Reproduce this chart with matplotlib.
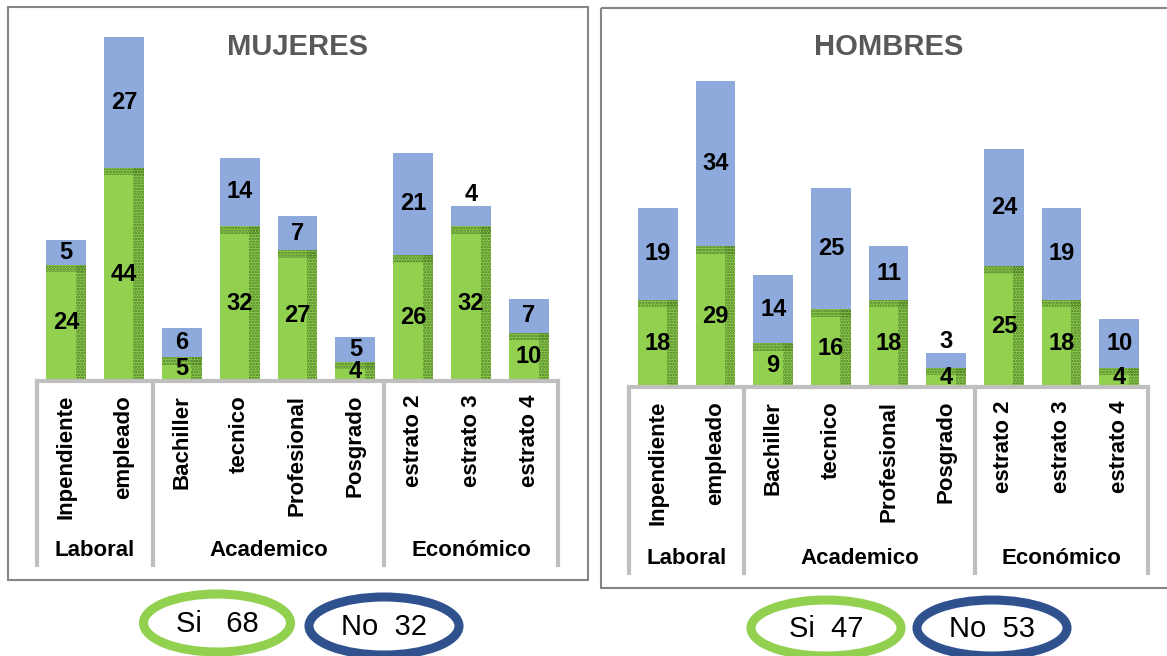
import matplotlib
matplotlib.use("Agg")
import matplotlib.pyplot as plt
from matplotlib.patches import Rectangle, Ellipse

# data
categories = ["Inpendiente", "empleado", "Bachiller", "tecnico", "Profesional",
              "Posgrado", "estrato 2", "estrato 3", "estrato 4"]
groups = ["Laboral", "Academico", "Económico"]
group_sizes = [2, 4, 3]

mujeres_si = [24, 44, 5, 32, 27, 4, 26, 32, 10]
mujeres_no = [5, 27, 6, 14, 7, 5, 21, 4, 7]
hombres_si = [18, 29, 9, 16, 18, 4, 25, 18, 4]
hombres_no = [19, 34, 14, 25, 11, 3, 24, 19, 10]

totales_mujeres = [68, 32]
totales_hombres = [47, 53]

GREEN = "#92D050"
DARK_GREEN = "#4A7A26"
BLUE = "#8EA9DB"
NAVY = "#2F528F"
GRID = "#BFBFBF"
plt.rcParams["font.family"] = ["Liberation Sans", "DejaVu Sans"]
plt.rcParams["hatch.linewidth"] = 1.2

W, H = 1167, 656
PX_PER_UNIT = 4.85

fig = plt.figure(figsize=(W / 100, H / 100), dpi=100)

# background layer in pixel coordinates for frames and ellipses
bg = fig.add_axes([0, 0, 1, 1], zorder=-1)
bg.set_xlim(0, W)
bg.set_ylim(H, 0)
bg.axis("off")


def panel(x0, x1, top, base, title, si, no, totals_txt, frame, ellipses):
    ax = fig.add_axes([x0 / W, 1 - base / H, (x1 - x0) / W, (base - top) / H])
    ax.patch.set_alpha(0)
    height_px = base - top
    ax.set_ylim(0, height_px / PX_PER_UNIT)
    ax.set_xlim(-0.5, len(categories) - 0.5)
    x = list(range(len(categories)))
    w = 0.69

    ax.bar(x, si, width=w, color=GREEN, zorder=2)
    # darker textured edge on the green bars
    ax.bar([i + w * 0.37 for i in x], si, width=w * 0.26, color="none",
           edgecolor=DARK_GREEN, hatch="......", linewidth=0, zorder=3)
    strip = [min(1.6, s * 0.5) for s in si]
    ax.bar(x, strip, bottom=[s - t for s, t in zip(si, strip)], width=w,
           color="none", edgecolor=DARK_GREEN, hatch="......", linewidth=0, zorder=3)
    ax.bar(x, no, bottom=si, width=w, color=BLUE, zorder=2)

    for i in x:
        ax.text(i, si[i] / 2, str(si[i]), ha="center", va="center",
                fontsize=17, fontweight="bold", zorder=5)
        if no[i] < 5:
            ax.text(i, si[i] + no[i], str(no[i]), ha="center", va="bottom",
                    fontsize=17, fontweight="bold", zorder=5)
        else:
            ax.text(i, si[i] + no[i] / 2, str(no[i]), ha="center", va="center",
                    fontsize=17, fontweight="bold", zorder=5)

    for s in ax.spines.values():
        s.set_visible(False)
    ax.set_yticks([])
    ax.set_xticks(x)
    ax.set_xticklabels(categories, rotation=90, fontsize=16, fontweight="bold", va="top")
    ax.tick_params(axis="x", length=0, pad=10)
    ax.axhline(0, color=GRID, lw=3, zorder=4, clip_on=False)

    line_bottom = -(frame[3] - 15 - base) / height_px
    label_y = -(frame[3] - 29 - base) / height_px
    start = -0.5
    bounds = [start]
    for g, n in zip(groups, group_sizes):
        ax.text(start + n / 2, label_y, g, transform=ax.get_xaxis_transform(),
                ha="center", va="center", fontsize=16, fontweight="bold")
        start += n
        bounds.append(start)
    for b in bounds:
        ax.plot([b, b], [0, line_bottom], transform=ax.get_xaxis_transform(),
                color=GRID, lw=3, clip_on=False, zorder=4)

    ax.text(0.5, (base - 47) / height_px, title, transform=ax.transAxes,
            ha="center", va="center", fontsize=21, fontweight="bold", color="#595959")

    fx0, fy0, fx1, fy1 = frame
    bg.add_patch(Rectangle((fx0, fy0), fx1 - fx0, fy1 - fy0, fill=False,
                           edgecolor="#868686", lw=1.5))

    for txt, (cx, cy, ew, eh), col in zip(totals_txt, ellipses, [GREEN, NAVY]):
        bg.add_patch(Ellipse((cx, cy), ew, eh, fill=False, edgecolor=col, lw=6.5))
        bg.text(cx, cy + 1, txt, ha="center", va="center", fontsize=21)
    return ax


panel(37, 558, 7, 381, "MUJERES", mujeres_si, mujeres_no,
      ["Si   %d" % totales_mujeres[0], "No  %d" % totales_mujeres[1]],
      (8, 7, 588, 580), [(217, 623, 147, 58), (384, 626, 150, 58)])
panel(629, 1148, 8, 387, "HOMBRES", hombres_si, hombres_no,
      ["Si  %d" % totales_hombres[0], "No  %d" % totales_hombres[1]],
      (601, 8, 1172, 588), [(826, 628, 150, 56), (992, 628, 150, 56)])

fig.savefig("out.png", dpi=100)
